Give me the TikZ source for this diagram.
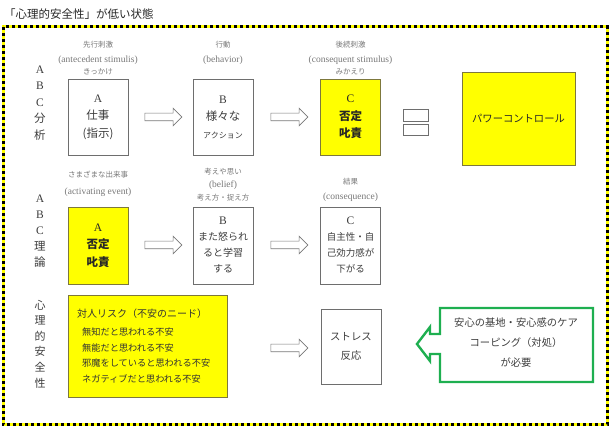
\documentclass[tikz,border=0pt]{standalone}
\usepackage{fontspec}
\setmainfont{Liberation Serif}
\newfontfamily\jp{Noto Sans CJK JP}
\usetikzlibrary{shapes.arrows}
\definecolor{boxgray}{RGB}{110,110,110}
\definecolor{ybord}{RGB}{125,120,60}
\definecolor{txtgray}{RGB}{60,60,60}
\definecolor{lblgray}{RGB}{120,120,120}
\definecolor{arrgray}{RGB}{120,120,120}
\definecolor{gbord}{RGB}{30,175,80}
\definecolor{yfill}{RGB}{255,255,0}
\begin{document}
\begin{tikzpicture}[x=1pt,y=-1pt,
  box/.style={draw=boxgray, line width=0.8pt, minimum width=60pt, minimum height=76pt, inner sep=0pt, text=txtgray, align=center, font=\fontsize{11.5}{17.5}\selectfont},
  ybox/.style={box, fill=yfill, draw=ybord, text=black!85},
  lbl/.style={text=lblgray, inner sep=0pt, font=\jp\fontsize{7.5}{9}\selectfont},
  elbl/.style={text=lblgray, inner sep=0pt, font=\fontsize{9.5}{10}\selectfont},
  harrow/.style={single arrow, draw=arrgray, fill=white, line width=0.6pt, minimum height=37pt, inner sep=3.5pt, single arrow head extend=5pt},
  vlab/.style={text=txtgray, align=center, inner sep=0pt},
  eqbox/.style={draw=boxgray, line width=0.6pt, minimum width=25pt, inner sep=0pt}]
\useasboundingbox (0,0) rectangle (611,435);
% title
\node[anchor=west, inner sep=0pt, font=\jp\fontsize{11.5}{13}\selectfont, text=black!85] (title) at (4,14) {「心理的安全性」が低い状態};
% border
\draw[yfill, line width=3pt] (3,27) rectangle (607,425);
\draw[black, line width=3pt, dash pattern=on 3pt off 3pt] (3,27) rectangle (607,425);

% vertical labels
\node[vlab, font=\fontsize{11.5}{16.5}\selectfont] (v1) at (40,103) {A\\B\\C\\{\jp 分}\\{\jp 析}};
\node[vlab, font=\fontsize{11.5}{16}\selectfont] (v2) at (40,231) {A\\B\\C\\{\jp 理}\\{\jp 論}};
\node[vlab, font=\jp\fontsize{11}{15.6}\selectfont] (v3) at (40,344) {心\\理\\的\\安\\全\\性};

% row 1
\node[box] (a1) at (98,117) {A\\{\jp 仕事}\\{\jp (指示)}};
\node[box] (b1) at (223,117) {B\\{\jp 様々な}\\{\jp\fontsize{8}{10}\selectfont アクション}};
\node[ybox] (c1) at (350.5,117) {C\\{\jp\bfseries 否定}\\{\jp\bfseries 叱責}};
\node[ybox, minimum width=113pt, minimum height=93pt, font=\jp\fontsize{10.3}{12}\selectfont] (pc) at (518.5,118.5) {パワーコントロール};
\node[eqbox, minimum height=12pt] (eq1) at (415.5,115) {};
\node[eqbox, minimum height=11pt] (eq2) at (415.5,129.5) {};
\node[harrow] (ar1) at (161.5,117) {};
\node[harrow] (ar2) at (287.5,117) {};

\node[lbl] (l1a) at (98,45) {先行刺激};
\node[elbl] (l1b) at (98,60) {(antecedent stimulis)};
\node[lbl] (l1c) at (98,72) {きっかけ};
\node[lbl] (l2a) at (223,45) {行動};
\node[elbl] (l2b) at (223,60) {(behavior)};
\node[lbl] (l3a) at (350.5,45) {後続刺激};
\node[elbl] (l3b) at (350.5,60) {(consequent stimulus)};
\node[lbl] (l3c) at (350.5,72) {みかえり};

% row 2
\node[ybox, minimum height=77pt, font=\fontsize{11.5}{17.5}\selectfont] (a2) at (98,245.5) {A\\{\jp\bfseries 否定}\\{\jp\bfseries 叱責}};
\node[box, minimum height=77pt, font=\fontsize{10}{16}\selectfont] (b2) at (223,245.5) {{\fontsize{11.5}{16}\selectfont B}\\{\jp また怒られ}\\{\jp ると学習}\\{\jp する}};
\node[box, minimum height=77pt, font=\fontsize{9.5}{16}\selectfont] (c2) at (350.5,245.5) {{\fontsize{11.5}{16}\selectfont C}\\{\jp 自主性・自}\\{\jp 己効力感が}\\{\jp 下がる}};
\node[harrow] (ar3) at (161.5,245) {};
\node[harrow] (ar4) at (287.5,245) {};

\node[lbl] (m1a) at (98,175) {さまざまな出来事};
\node[elbl] (m1b) at (98,192) {(activating event)};
\node[lbl] (m2a) at (223,172) {考えや思い};
\node[elbl] (m2b) at (223,185) {(belief)};
\node[lbl] (m2c) at (223,198) {考え方・捉え方};
\node[lbl] (m3a) at (350.5,182) {結果};
\node[elbl] (m3b) at (350.5,197) {(consequence)};

% row 3
\node[ybox, minimum width=159pt, minimum height=102pt] (r3) at (147.5,346) {};
\node[anchor=west, align=left, inner sep=0pt, text=black!80, font=\jp\fontsize{9.2}{15.5}\selectfont] (r3t) at (77,346)
  {{\fontsize{10}{12}\selectfont 対人リスク（不安のニード）}\\[3pt]
   \hspace{5pt}無知だと思われる不安\\
   \hspace{5pt}無能だと思われる不安\\
   \hspace{5pt}邪魔をしていると思われる不安\\
   \hspace{5pt}ネガティブだと思われる不安};
\node[box, minimum height=75pt, font=\jp\fontsize{10.4}{19}\selectfont] (s3) at (351,346.5) {ストレス\\反応};
\node[harrow] (ar5) at (287.5,348) {};

% green callout arrow
\coordinate (g1) at (440,308);
\coordinate (g2) at (593,308);
\coordinate (g3) at (593,382);
\coordinate (g4) at (440,382);
\coordinate (gtip) at (417,344);
\draw[gbord, line width=2.4pt, line join=miter]
  (g1) -- (g2) -- (g3) -- (g4) -- (440,354) -- (430,354) -- (430,361) -- (gtip)
  -- (430,327) -- (430,334) -- (440,334) -- cycle;
\node[align=center, inner sep=0pt, text=txtgray, font=\jp\fontsize{10.3}{20}\selectfont] (gt) at (516,343)
  {安心の基地・安心感のケア\\コーピング（対処）\\が必要};
\end{tikzpicture}
\end{document}
